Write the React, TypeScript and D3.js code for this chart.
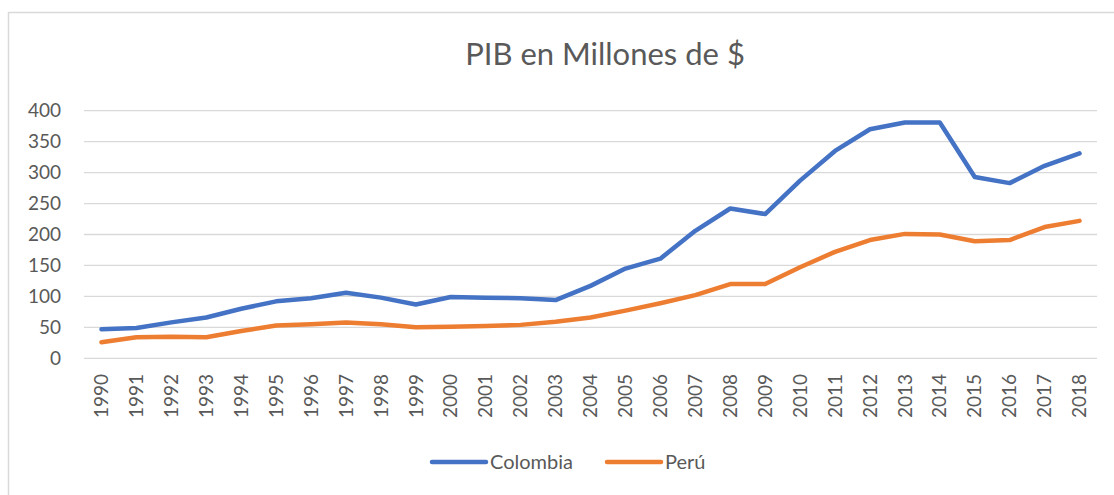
import React, { useEffect, useRef } from 'react';
import * as d3 from 'd3';

const years = [
  '1990', '1991', '1992', '1993', '1994', '1995', '1996', '1997', '1998', '1999',
  '2000', '2001', '2002', '2003', '2004', '2005', '2006', '2007', '2008', '2009',
  '2010', '2011', '2012', '2013', '2014', '2015', '2016', '2017', '2018',
];

const colombia = [
  47, 49, 58, 66, 80, 92, 97, 106, 98, 87,
  99, 98, 97, 94, 117, 145, 161, 206, 242, 233,
  287, 335, 370, 381, 381, 293, 283, 311, 331,
];

const peru = [
  26, 34, 35, 34, 44, 53, 55, 58, 55, 50,
  51, 52, 54, 59, 66, 77, 89, 102, 120, 120,
  147, 172, 191, 201, 200, 189, 191, 212, 222,
];

const yTicks = [0, 50, 100, 150, 200, 250, 300, 350, 400];

const seriesList = [
  { name: 'Colombia', values: colombia, color: '#4472C4' },
  { name: 'Perú', values: peru, color: '#ED7D31' },
];

const W = 1114;
const H = 495;
const FONT = 'Lato, "Open Sans", sans-serif';

const App: React.FC = () => {
  const svgRef = useRef<SVGSVGElement>(null);

  useEffect(() => {
    if (!svgRef.current) return;
    const svg = d3.select(svgRef.current);
    svg.selectAll('*').remove();

    // chart frame (runs past the bottom/right of the picture)
    svg.append('rect')
      .attr('x', 8.5).attr('y', 12.5)
      .attr('width', W + 20).attr('height', H + 20)
      .attr('fill', '#fff')
      .attr('stroke', '#d9d9d9')
      .attr('stroke-width', 1.5);

    const left = 84, right = 1097, top = 110.7, bottom = 358.3;

    const x = d3.scaleBand().domain(years).range([left, right]);
    const y = d3.scaleLinear().domain([0, 400]).range([bottom, top]);

    // title
    svg.append('text')
      .attr('x', 605).attr('y', 65)
      .attr('text-anchor', 'middle')
      .attr('fill', '#595959')
      .attr('font-family', FONT)
      .attr('font-size', 31)
      .text('PIB en Millones de $');

    // gridlines + y labels
    const grid = svg.append('g');
    yTicks.forEach((t) => {
      grid.append('line')
        .attr('x1', left).attr('x2', right)
        .attr('y1', y(t)).attr('y2', y(t))
        .attr('stroke', '#d9d9d9')
        .attr('stroke-width', 1.3);
      grid.append('text')
        .attr('x', 61).attr('y', y(t))
        .attr('dy', '0.35em')
        .attr('text-anchor', 'end')
        .attr('fill', '#595959')
        .attr('font-family', FONT)
        .attr('font-size', 19)
        .text(t);
    });

    // x labels (rotated)
    years.forEach((yr) => {
      const cx = (x(yr) ?? 0) + x.bandwidth() / 2;
      svg.append('text')
        .attr('transform', `translate(${cx},374) rotate(-90)`)
        .attr('dy', '0.35em')
        .attr('text-anchor', 'end')
        .attr('fill', '#595959')
        .attr('font-family', FONT)
        .attr('font-size', 19)
        .text(yr);
    });

    // lines
    seriesList.forEach((s) => {
      const line = d3.line<number>()
        .x((_, i) => (x(years[i]) ?? 0) + x.bandwidth() / 2)
        .y((d) => y(d));
      svg.append('path')
        .datum(s.values)
        .attr('d', line)
        .attr('fill', 'none')
        .attr('stroke', s.color)
        .attr('stroke-width', 4.5)
        .attr('stroke-linejoin', 'round')
        .attr('stroke-linecap', 'round');
    });

    // legend
    const legendPos = [432, 607];
    seriesList.forEach((s, i) => {
      const lx = legendPos[i];
      svg.append('line')
        .attr('x1', lx).attr('x2', lx + 54)
        .attr('y1', 462).attr('y2', 462)
        .attr('stroke', s.color)
        .attr('stroke-width', 4.5)
        .attr('stroke-linecap', 'round');
      svg.append('text')
        .attr('x', lx + 58).attr('y', 462)
        .attr('dy', '0.35em')
        .attr('fill', '#595959')
        .attr('font-family', FONT)
        .attr('font-size', 20)
        .text(s.name);
    });
  }, []);

  return (
    <div style={{ position: 'absolute', left: 0, top: 0, width: W, height: H, overflow: 'hidden', background: '#fff' }}>
      <svg ref={svgRef} width={W} height={H} style={{ display: 'block' }} />
    </div>
  );
};

export default App;
